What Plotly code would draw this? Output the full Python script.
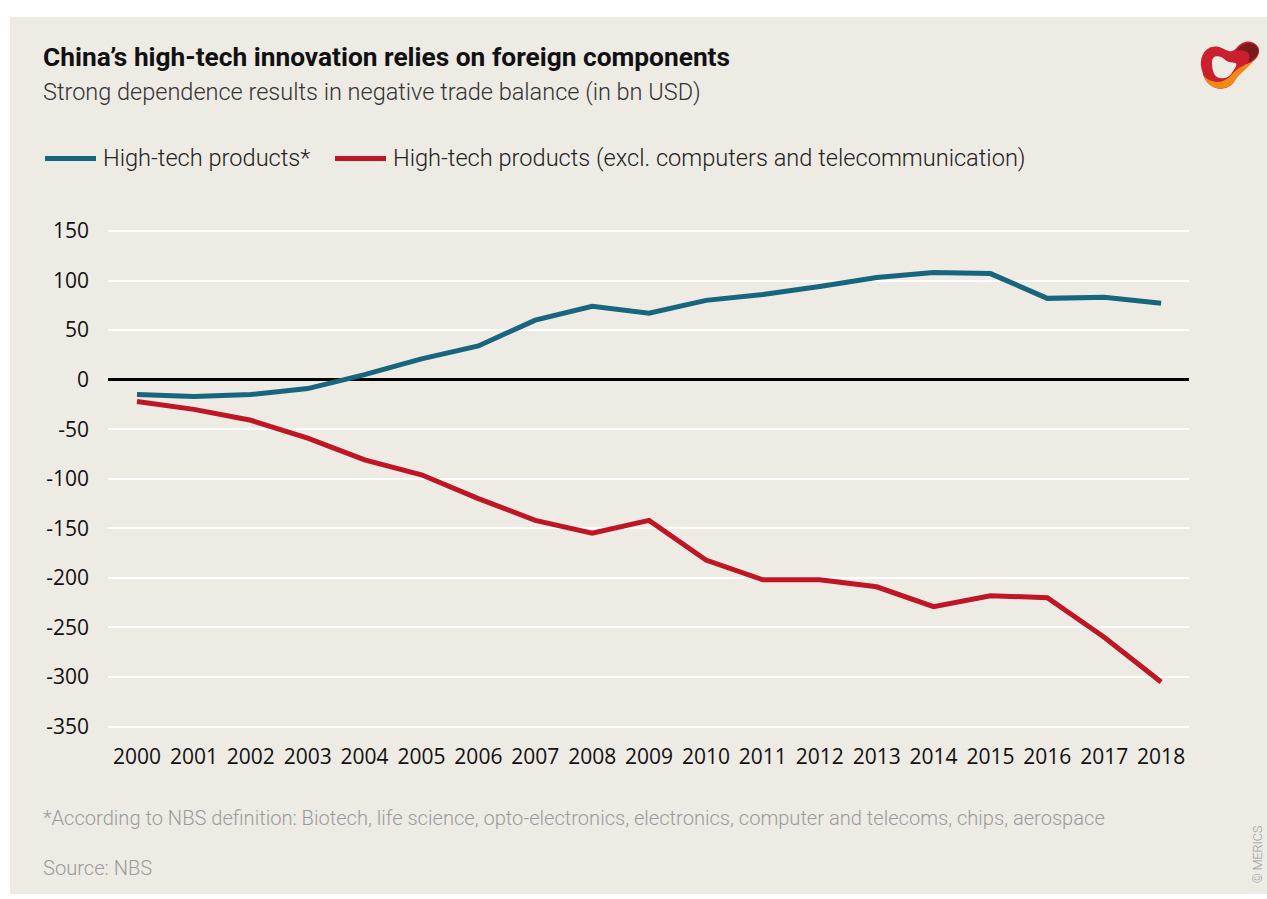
import plotly.graph_objects as go

years = list(range(2000, 2019))
high_tech = [-15, -17, -15, -9, 5, 21, 34, 60, 74, 67, 80, 86, 94, 103, 108, 107, 82, 83, 77]
high_tech_excl = [-22, -30, -41, -59, -81, -96, -120, -142, -155, -142, -182, -202, -202, -209, -229, -218, -220, -260, -305]
y_ticks = [150, 100, 50, 0, -50, -100, -150, -200, -250, -300, -350]

W, H = 1267, 899
BG = "#eeeae4"
BLUE = "#17667e"
RED = "#c01525"
GREY = "#9b9b9b"


def px(x):
    return x / W


def py(y):
    return 1 - y / H


fig = go.Figure()
fig.add_trace(go.Scatter(x=years, y=high_tech, mode="lines",
                         line=dict(color=BLUE, width=5), name="High-tech products*"))
fig.add_trace(go.Scatter(x=years, y=high_tech_excl, mode="lines",
                         line=dict(color=RED, width=5),
                         name="High-tech products (excl. computers and telecommunication)"))

shapes = []
# beige panel
shapes.append(dict(type="rect", xref="paper", yref="paper", x0=px(10), x1=px(1267), y0=py(897), y1=py(12),
                   fillcolor=BG, line=dict(width=0), layer="below"))
# legend swatches
shapes.append(dict(type="line", xref="paper", yref="paper", x0=px(45), x1=px(96), y0=py(155), y1=py(155),
                   line=dict(color=BLUE, width=5)))
shapes.append(dict(type="line", xref="paper", yref="paper", x0=px(335), x1=px(386), y0=py(155), y1=py(155),
                   line=dict(color=RED, width=5)))


def path(points):
    s = ""
    for cmd, pts in points:
        s += cmd + " " + " ".join(f"{px(a):.5f},{py(b):.5f}" for a, b in pts) + " "
    return s + "Z"


# logo (approximate)
outer = path([("M", [(1202, 66)]),
              ("C", [(1198, 52), (1206, 40), (1218, 42)]),
              ("C", [(1226, 44), (1230, 50), (1236, 44)]),
              ("C", [(1242, 36), (1252, 34), (1258, 42)]),
              ("C", [(1262, 50), (1254, 58), (1246, 60)]),
              ("C", [(1238, 64), (1238, 74), (1232, 80)]),
              ("C", [(1224, 88), (1206, 86), (1202, 66)])])
shapes.append(dict(type="path", xref="paper", yref="paper", path=outer, fillcolor="#cc1f2d", line=dict(width=0)))
orange = path([("M", [(1204, 72)]),
               ("C", [(1212, 80), (1224, 80), (1232, 70)]),
               ("C", [(1238, 62), (1248, 60), (1254, 56)]),
               ("C", [(1248, 64), (1240, 68), (1234, 78)]),
               ("C", [(1226, 88), (1208, 86), (1204, 72)])])
shapes.append(dict(type="path", xref="paper", yref="paper", path=orange, fillcolor="#f08a14", line=dict(width=0)))
dark = path([("M", [(1236, 46)]),
             ("C", [(1244, 36), (1254, 36), (1258, 44)]),
             ("C", [(1260, 50), (1254, 56), (1248, 58)]),
             ("C", [(1252, 50), (1248, 44), (1236, 46)])])
shapes.append(dict(type="path", xref="paper", yref="paper", path=dark, fillcolor="#7a1a1c", line=dict(width=0)))
hole = path([("M", [(1212, 58)]),
             ("C", [(1212, 50), (1220, 50), (1226, 56)]),
             ("C", [(1232, 60), (1238, 56), (1236, 62)]),
             ("C", [(1232, 68), (1230, 74), (1222, 74)]),
             ("C", [(1214, 74), (1212, 66), (1212, 58)])])
shapes.append(dict(type="path", xref="paper", yref="paper", path=hole, fillcolor=BG, line=dict(width=0)))

annotations = [
    dict(text="<b>China’s high-tech innovation relies on foreign components</b>", x=px(41), y=py(52),
         xanchor="left", yanchor="middle", font=dict(family="Roboto", size=26.3, color="#111111")),
    dict(text="Strong dependence results in negative trade balance (in bn USD)", x=px(41), y=py(88),
         xanchor="left", yanchor="middle", font=dict(family="Roboto", size=23.5, color="#333333", weight=300)),
    dict(text="High-tech products*", x=px(101), y=py(154),
         xanchor="left", yanchor="middle", font=dict(family="Roboto", size=23.6, color="#222222", weight=300)),
    dict(text="High-tech products (excl. computers and telecommunication)", x=px(391), y=py(154),
         xanchor="left", yanchor="middle", font=dict(family="Roboto", size=23.6, color="#222222", weight=300)),
    dict(text="*According to NBS definition: Biotech, life science, opto-electronics, electronics, computer and telecoms, chips, aerospace",
         x=px(41), y=py(820), xanchor="left", yanchor="middle",
         font=dict(family="Roboto", size=20.1, color=GREY, weight=300)),
    dict(text="Source: NBS", x=px(41), y=py(871), xanchor="left", yanchor="middle",
         font=dict(family="Roboto", size=20.1, color=GREY, weight=300)),
    dict(text="© MERICS", x=px(1257), y=py(857), xanchor="center", yanchor="middle", textangle=-90,
         font=dict(family="Roboto", size=12.5, color=GREY, weight=300)),
]
for a in annotations:
    a.update(xref="paper", yref="paper", showarrow=False)

x_left, x_right = 108, 1189
y_top, y_bot = 218, 738
fig.update_layout(
    width=W, height=H,
    margin=dict(l=0, r=0, t=0, b=0),
    paper_bgcolor="white",
    plot_bgcolor=BG,
    showlegend=False,
    shapes=shapes,
    annotations=annotations,
    xaxis=dict(domain=[px(x_left), px(x_right)], range=[1999.49, 2018.49],
               tickmode="array", tickvals=years, ticktext=[str(y) for y in years],
               showgrid=False, zeroline=False, showline=False, ticks="",
               tickfont=dict(family="Open Sans", size=21, color="#111111"),
               ticklabelstandoff=6),
    yaxis=dict(domain=[py(y_bot), py(y_top)], range=[-360, 160],
               tickmode="array", tickvals=y_ticks, ticktext=[str(v) for v in y_ticks],
               showgrid=True, gridcolor="white", gridwidth=2,
               zeroline=True, zerolinecolor="black", zerolinewidth=2.5,
               showline=False, ticks="",
               tickfont=dict(family="Open Sans", size=21, color="#111111"),
               ticklabelstandoff=18),
)

fig.write_html("out.html")
